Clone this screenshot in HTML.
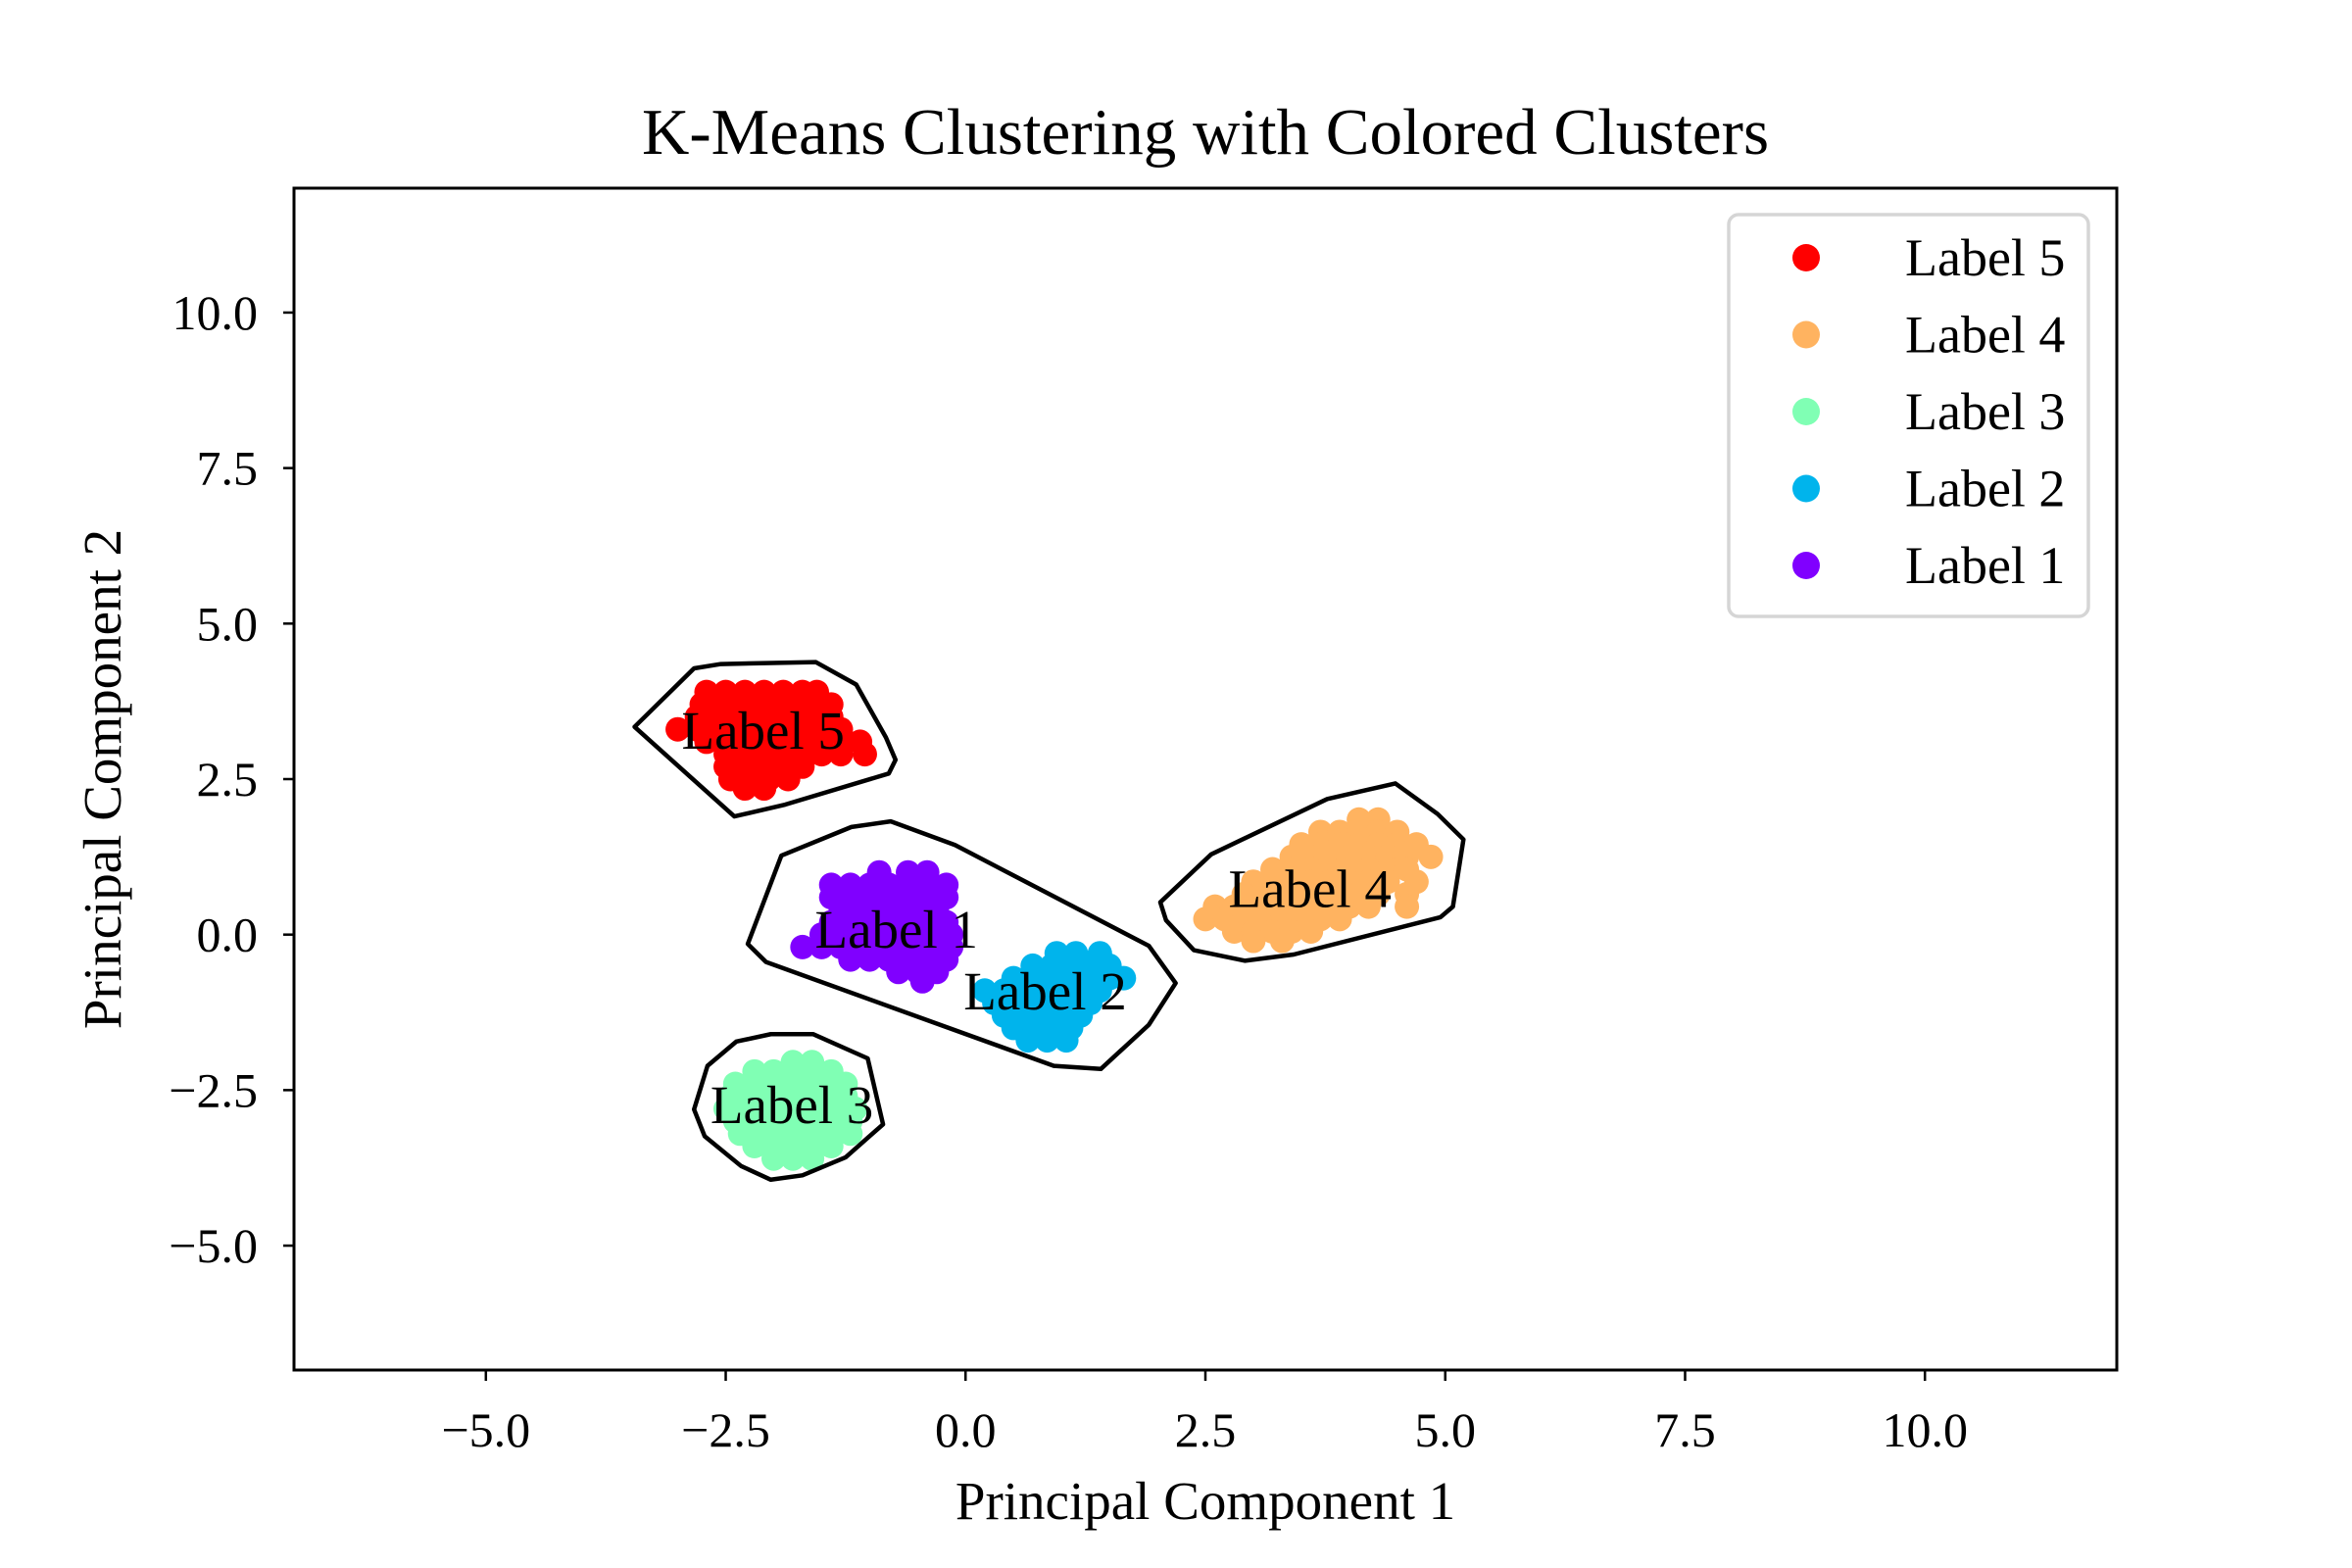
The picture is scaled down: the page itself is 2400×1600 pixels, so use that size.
<!DOCTYPE html>
<html><head><meta charset="utf-8"><style>
html,body{margin:0;padding:0;background:#fff;}
svg{display:block;font-family:"Liberation Serif","DejaVu Serif",serif;}
</style></head><body>
<svg id="chart" width="2400" height="1600" viewBox="0 0 2400 1600" xmlns="http://www.w3.org/2000/svg">
<rect x="0" y="0" width="2400" height="1600" fill="#fff"/>
<text x="1230" y="157" font-size="67" text-anchor="middle">K-Means Clustering with Colored Clusters</text>
<g id="plot"></g>
<rect x="300" y="192" width="1860" height="1206" fill="none" stroke="#000" stroke-width="3"/>
<g id="ticks"></g>
<text x="1230" y="1550" font-size="55" text-anchor="middle">Principal Component 1</text>
<text x="0" y="0" font-size="55" text-anchor="middle" transform="translate(123,795) rotate(-90)">Principal Component 2</text>
<g id="legend"></g>
</svg>
<script>
const xTicks = [-5.0, -2.5, 0.0, 2.5, 5.0, 7.5, 10.0];
const yTicks = [-5.0, -2.5, 0.0, 2.5, 5.0, 7.5, 10.0];
const clusterNames = ["Label 1", "Label 2", "Label 3", "Label 4", "Label 5"];
const clusterColors = ["#8000ff", "#00b4ec", "#80ffb4", "#ffb360", "#ff0000"];
const labelX = [-0.72, 0.83, -1.81, 3.59, -2.11];
const labelY = [0.09, -0.90, -2.73, 0.74, 3.29];
const legendOrder = [4, 3, 2, 1, 0];

const pts1 = [[-0.9,1.0],[-0.6,1.0],[-0.4,1.0],
[-1.4,0.8],[-1.2,0.8],[-1.0,0.8],[-0.8,0.8],[-0.6,0.8],[-0.4,0.8],[-0.2,0.8],
[-1.4,0.6],[-1.2,0.6],[-1.0,0.6],[-0.8,0.6],[-0.6,0.6],[-0.4,0.6],[-0.2,0.6],
[-1.3,0.4],[-1.1,0.4],[-0.9,0.4],[-0.7,0.4],[-0.5,0.4],[-0.3,0.4],
[-1.4,0.2],[-1.2,0.2],[-1.0,0.2],[-0.8,0.2],[-0.6,0.2],[-0.4,0.2],[-0.2,0.2],
[-1.5,0.0],[-1.3,0.0],[-1.1,0.0],[-0.9,0.0],[-0.7,0.0],[-0.5,0.0],[-0.3,0.0],[-0.15,0.0],
[-1.7,-0.2],[-1.5,-0.2],[-1.3,-0.2],[-1.1,-0.2],[-0.9,-0.2],[-0.7,-0.2],[-0.5,-0.2],[-0.3,-0.2],[-0.15,-0.2],
[-1.2,-0.4],[-1.0,-0.4],[-0.8,-0.4],[-0.6,-0.4],[-0.4,-0.4],[-0.2,-0.4],
[-0.7,-0.6],[-0.5,-0.6],[-0.3,-0.6],[-0.45,-0.75]];
const pts2 = [[0.95,-0.3],[1.15,-0.3],[1.4,-0.3],
[0.7,-0.5],[0.9,-0.5],[1.1,-0.5],[1.3,-0.5],[1.5,-0.5],
[0.5,-0.7],[0.7,-0.7],[0.9,-0.7],[1.1,-0.7],[1.3,-0.7],[1.5,-0.7],[1.65,-0.7],
[0.2,-0.9],[0.4,-0.9],[0.6,-0.9],[0.8,-0.9],[1.0,-0.9],[1.2,-0.9],[1.4,-0.9],
[0.3,-1.1],[0.5,-1.1],[0.7,-1.1],[0.9,-1.1],[1.1,-1.1],[1.3,-1.1],
[0.4,-1.3],[0.6,-1.3],[0.8,-1.3],[1.0,-1.3],[1.2,-1.3],
[0.5,-1.5],[0.7,-1.5],[0.9,-1.5],[1.1,-1.5],
[0.65,-1.7],[0.85,-1.7],[1.05,-1.7]];
const pts3 = [[-1.8,-2.05],[-1.6,-2.05],
[-2.2,-2.2],[-2.0,-2.2],[-1.8,-2.2],[-1.6,-2.2],[-1.4,-2.2],
[-2.4,-2.4],[-2.2,-2.4],[-2.0,-2.4],[-1.8,-2.4],[-1.6,-2.4],[-1.4,-2.4],[-1.25,-2.4],
[-2.45,-2.6],[-2.25,-2.6],[-2.05,-2.6],[-1.85,-2.6],[-1.65,-2.6],[-1.45,-2.6],[-1.25,-2.6],
[-2.5,-2.8],[-2.3,-2.8],[-2.1,-2.8],[-1.9,-2.8],[-1.7,-2.8],[-1.5,-2.8],[-1.3,-2.8],[-1.15,-2.8],
[-2.4,-3.0],[-2.2,-3.0],[-2.0,-3.0],[-1.8,-3.0],[-1.6,-3.0],[-1.4,-3.0],[-1.2,-3.0],
[-2.35,-3.2],[-2.15,-3.2],[-1.95,-3.2],[-1.75,-3.2],[-1.55,-3.2],[-1.35,-3.2],[-1.2,-3.2],
[-2.2,-3.4],[-2.0,-3.4],[-1.8,-3.4],[-1.6,-3.4],[-1.4,-3.4],
[-2.0,-3.6],[-1.8,-3.6],[-1.6,-3.6]];
const pts4 = [[4.1,1.85],[4.3,1.85],
[3.7,1.65],[3.9,1.65],[4.1,1.65],[4.3,1.65],[4.5,1.65],
[3.5,1.45],[3.7,1.45],[3.9,1.45],[4.1,1.45],[4.3,1.45],[4.5,1.45],[4.7,1.45],
[3.4,1.25],[3.6,1.25],[3.8,1.25],[4.0,1.25],[4.2,1.25],[4.4,1.25],[4.6,1.25],[4.85,1.25],
[3.2,1.05],[3.4,1.05],[3.6,1.05],[3.8,1.05],[4.0,1.05],[4.2,1.05],[4.4,1.05],[4.6,1.05],
[3.0,0.85],[3.2,0.85],[3.4,0.85],[3.6,0.85],[3.8,0.85],[4.0,0.85],[4.2,0.85],[4.4,0.85],[4.7,0.85],
[2.9,0.65],[3.1,0.65],[3.3,0.65],[3.5,0.65],[3.7,0.65],[3.9,0.65],[4.1,0.65],[4.3,0.65],[4.6,0.65],
[2.6,0.45],[2.8,0.45],[3.0,0.45],[3.2,0.45],[3.4,0.45],[3.6,0.45],[3.8,0.45],[4.0,0.45],[4.2,0.45],[4.6,0.45],
[2.5,0.25],[2.7,0.25],[2.9,0.25],[3.1,0.25],[3.3,0.25],[3.5,0.25],[3.7,0.25],[3.9,0.25],
[2.8,0.05],[3.0,0.05],[3.2,0.05],[3.4,0.05],[3.6,0.05],
[3.0,-0.1],[3.3,-0.1]];
const pts5 = [[-2.7,3.9],[-2.5,3.9],[-2.3,3.9],[-2.1,3.9],[-1.9,3.9],[-1.7,3.9],[-1.55,3.9],
[-2.75,3.7],[-2.55,3.7],[-2.35,3.7],[-2.15,3.7],[-1.95,3.7],[-1.75,3.7],[-1.55,3.7],[-1.4,3.7],
[-2.8,3.5],[-2.6,3.5],[-2.4,3.5],[-2.2,3.5],[-2.0,3.5],[-1.8,3.5],[-1.6,3.5],[-1.4,3.5],
[-3.0,3.3],[-2.8,3.3],[-2.6,3.3],[-2.4,3.3],[-2.2,3.3],[-2.0,3.3],[-1.8,3.3],[-1.6,3.3],[-1.4,3.3],[-1.3,3.3],
[-2.7,3.1],[-2.5,3.1],[-2.3,3.1],[-2.1,3.1],[-1.9,3.1],[-1.7,3.1],[-1.5,3.1],[-1.25,3.1],[-1.1,3.1],
[-2.5,2.9],[-2.3,2.9],[-2.1,2.9],[-1.9,2.9],[-1.7,2.9],[-1.5,2.9],[-1.3,2.9],[-1.05,2.9],
[-2.5,2.7],[-2.3,2.7],[-2.1,2.7],[-1.9,2.7],[-1.7,2.7],
[-2.45,2.5],[-2.25,2.5],[-2.05,2.5],[-1.85,2.5],
[-2.3,2.35],[-2.1,2.35]];
const clusterPoints = [pts1, pts2, pts3, pts4, pts5];

const hull12 = [[-1.92,1.27],[-1.19,1.73],[-0.78,1.82],[-0.11,1.44],[1.91,-0.18],[2.19,-0.78],[1.91,-1.45],[1.41,-2.16],[0.92,-2.11],[-2.08,-0.44],[-2.27,-0.15]];
const hull3 = [[-2.69,-2.11],[-2.39,-1.72],[-2.03,-1.60],[-1.59,-1.60],[-1.02,-1.99],[-0.86,-3.05],[-1.25,-3.58],[-1.70,-3.87],[-2.03,-3.94],[-2.34,-3.72],[-2.72,-3.24],[-2.83,-2.81]];
const hull4 = [[2.03,0.52],[2.56,1.29],[3.77,2.18],[4.48,2.43],[4.92,1.94],[5.19,1.53],[5.08,0.45],[4.95,0.28],[3.42,-0.32],[2.91,-0.42],[2.38,-0.25],[2.09,0.23]];
const hull5 = [[-3.45,3.34],[-2.83,4.28],[-2.55,4.35],[-1.56,4.38],[-1.14,4.02],[-0.83,3.17],[-0.73,2.81],[-0.80,2.59],[-1.88,2.09],[-2.41,1.90]];
const hulls = [hull12, hull3, hull4, hull5];

const X0=300, X1=2160, Y0=192, Y1=1398, XMIN=-7, XMAX=12, YMIN=-7, YMAX=12;
function sx(v){return X0+(v-XMIN)/(XMAX-XMIN)*(X1-X0);}
function sy(v){return Y1-(v-YMIN)/(YMAX-YMIN)*(Y1-Y0);}
const NS="http://www.w3.org/2000/svg";
function mk(tag, attrs, parent){const e=document.createElementNS(NS,tag);for(const k in attrs)e.setAttribute(k,attrs[k]);parent.appendChild(e);return e;}
const plot=document.getElementById('plot');
const ticks=document.getElementById('ticks');
const legend=document.getElementById('legend');
const fmt=v=>(v<0?"\u2212":"")+Math.abs(v).toFixed(1);

clusterPoints.forEach((pts,ci)=>{
  const g=mk('g',{},plot);
  
  
  pts.forEach(p=>{
    const c=mk('circle',{cx:sx(p[0]),cy:sy(p[1]),r:12.5,fill:clusterColors[ci]},g);
    
    
  });
});
hulls.forEach(h=>{
  const pl=mk('polygon',{points:h.map(p=>sx(p[0])+','+sy(p[1])).join(' '),fill:'none',stroke:'#000','stroke-width':4.5,'stroke-linejoin':'round'},plot);
  
  
});
labelX.forEach((lx,ci)=>{
  const t=mk('text',{x:sx(lx),y:sy(labelY[ci])+19,'font-size':55,'text-anchor':'middle'},plot);
  t.textContent=clusterNames[ci];
  
  
});
xTicks.forEach(v=>{
  const x=sx(v);
  const l=mk('line',{x1:x,x2:x,y1:Y1,y2:Y1+11,stroke:'#000','stroke-width':2.5},ticks);
  
  
  const t=mk('text',{x:x,y:1476,'font-size':50,'text-anchor':'middle'},ticks);
  t.textContent=fmt(v);
  
  
});
yTicks.forEach(v=>{
  const y=sy(v);
  const l=mk('line',{x1:X0-11,x2:X0,y1:y,y2:y,stroke:'#000','stroke-width':2.5},ticks);
  
  
  const t=mk('text',{x:263,y:y+17,'font-size':50,'text-anchor':'end'},ticks);
  t.textContent=fmt(v);
  
  
});
const box=mk('rect',{x:1764,y:219,width:367,height:410,rx:10,fill:'#fff',stroke:'#d5d5d5','stroke-width':3.5},legend);


legendOrder.forEach((ci,i)=>{
  const y=263+i*78.5;
  const g=mk('g',{},legend);
  
  
  mk('circle',{cx:1843,cy:y,r:14,fill:clusterColors[ci]},g);
  const t=mk('text',{x:1944,y:y+18,'font-size':54},g);
  t.textContent=clusterNames[ci];
});
</script>
</body></html>
